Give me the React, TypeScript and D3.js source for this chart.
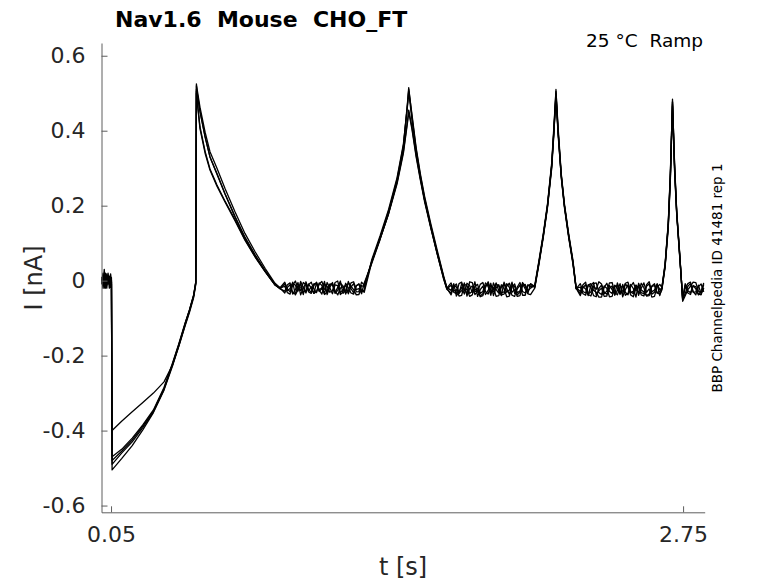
import React, { useEffect, useRef } from 'react';
import * as d3 from 'd3';

// sample times [s], shared by every sweep
const timePoints = [
  // holding before the step
  0.006, 0.012, 0.018, 0.024, 0.030, 0.036, 0.042, 0.048, 0.052,
  // step and first ramp
  0.055, 0.10, 0.15, 0.20, 0.25, 0.30, 0.34, 0.37, 0.40, 0.42, 0.44, 0.45,
  // jump and decay
  0.453, 0.456, 0.47, 0.494, 0.517, 0.55, 0.588, 0.635, 0.682, 0.73, 0.777, 0.824, 0.848,
  // flat 1
  0.87, 0.8825, 0.895, 0.9075, 0.92, 0.9325, 0.945, 0.9575, 0.97, 0.9825,
  0.995, 1.0075, 1.02, 1.0325, 1.045, 1.0575, 1.07, 1.0825, 1.095, 1.1075,
  1.12, 1.1325, 1.145, 1.1575, 1.17, 1.1825, 1.195, 1.2075, 1.22, 1.2325, 1.245,
  // peak 2
  1.28, 1.32, 1.36, 1.40, 1.43, 1.45, 1.455, 1.47, 1.49, 1.51, 1.53, 1.56, 1.59, 1.62, 1.635,
  // flat 2
  1.655, 1.6675, 1.68, 1.6925, 1.705, 1.7175, 1.73, 1.7425, 1.755, 1.7675,
  1.78, 1.7925, 1.805, 1.8175, 1.83, 1.8425, 1.855, 1.8675, 1.88, 1.8925,
  1.905, 1.9175, 1.93, 1.9425, 1.955, 1.9675, 1.98, 1.9925, 2.005, 2.0175, 2.03,
  // peak 3
  2.05, 2.07, 2.09, 2.11, 2.13, 2.14, 2.15, 2.16, 2.175, 2.19, 2.21, 2.23, 2.245,
  // flat 3
  2.265, 2.2775, 2.29, 2.3025, 2.315, 2.3275, 2.34, 2.3525, 2.365, 2.3775,
  2.39, 2.4025, 2.415, 2.4275, 2.44, 2.4525, 2.465, 2.4775, 2.49, 2.5025,
  2.515, 2.5275, 2.54, 2.5525, 2.565, 2.5775, 2.59, 2.6025, 2.615, 2.6275, 2.64,
  // peak 4
  2.65, 2.665, 2.68, 2.69, 2.70, 2.71, 2.72, 2.735, 2.748,
  // tail
  2.76, 2.7725, 2.785, 2.7975, 2.81, 2.8225, 2.835, 2.8475,
];

// current [nA] of each sweep
const sweep1 = [
  0.005, -0.01, 0.03, -0.02, 0.01, -0.005, 0.012, -0.015, 0.002,
  -0.49, -0.46, -0.43, -0.392, -0.35, -0.29, -0.225, -0.172, -0.115, -0.08, -0.04, -0.005,
  0.52, 0.512, 0.462, 0.396, 0.344, 0.3, 0.246, 0.184, 0.126, 0.077, 0.033, -0.007, -0.019,
  -0.004, -0.022, -0.030, -0.007, -0.012, -0.028, -0.002, -0.018, -0.033, -0.009,
  -0.020, -0.034, -0.006, -0.025, -0.036, -0.010, -0.015, -0.031, -0.027, -0.005,
  -0.001, -0.032, -0.024, -0.011, -0.035, -0.017, -0.008, -0.030, -0.029, -0.004, -0.012,
  0.05, 0.115, 0.185, 0.27, 0.36, 0.48, 0.515, 0.44, 0.35, 0.28, 0.22, 0.145, 0.075, 0.01, -0.02,
  -0.038, -0.016, -0.009, -0.033, -0.027, -0.006, -0.041, -0.021, -0.014, -0.037,
  -0.030, -0.010, -0.005, -0.029, -0.036, -0.012, -0.019, -0.042, -0.040, -0.017,
  -0.008, -0.031, -0.025, -0.004, -0.034, -0.022, -0.012, -0.039, -0.039, -0.011, -0.016,
  -0.015, 0.05, 0.12, 0.2, 0.31, 0.40, 0.51, 0.40, 0.28, 0.2, 0.12, 0.05, -0.02,
  -0.040, -0.019, -0.011, -0.035, -0.030, -0.008, -0.006, -0.032, -0.037, -0.014,
  -0.020, -0.043, -0.042, -0.016, -0.013, -0.034, -0.027, -0.007, -0.004, -0.029,
  -0.035, -0.012, -0.018, -0.038, -0.041, -0.015, -0.009, -0.036, -0.031, -0.010, -0.024,
  -0.02, 0.04, 0.15, 0.28, 0.484, 0.30, 0.18, 0.06, -0.05,
  -0.034, -0.015, -0.008, -0.031, -0.030, -0.012, -0.036, -0.019,
];

const sweep2 = [
  -0.01, 0.015, -0.02, 0.008, -0.012, 0.02, -0.008, 0.01, -0.004,
  -0.47, -0.45, -0.42, -0.385, -0.345, -0.285, -0.22, -0.168, -0.112, -0.078, -0.038, -0.003,
  0.51, 0.5, 0.45, 0.383, 0.33, 0.286, 0.232, 0.172, 0.116, 0.069, 0.027, -0.01, -0.022,
  -0.028, -0.011, -0.006, -0.033, -0.035, -0.014, -0.017, -0.037, -0.003, -0.024,
  -0.031, -0.008, -0.009, -0.029, -0.022, -0.002, -0.037, -0.018, -0.005, -0.034,
  -0.026, -0.007, -0.014, -0.036, -0.002, -0.021, -0.033, -0.013, -0.010, -0.030, -0.025,
  0.055, 0.12, 0.19, 0.275, 0.365, 0.47, 0.505, 0.43, 0.345, 0.275, 0.215, 0.14, 0.07, 0.005, -0.022,
  -0.012, -0.031, -0.035, -0.008, -0.004, -0.027, -0.022, -0.042, -0.038, -0.015,
  -0.010, -0.034, -0.029, -0.006, -0.016, -0.039, -0.006, -0.024, -0.033, -0.011,
  -0.021, -0.043, -0.041, -0.018, -0.009, -0.032, -0.028, -0.005, -0.015, -0.035, -0.037,
  -0.02, 0.045, 0.115, 0.195, 0.3, 0.39, 0.5, 0.395, 0.275, 0.195, 0.115, 0.045, -0.022,
  -0.008, -0.029, -0.033, -0.011, -0.019, -0.040, -0.043, -0.021, -0.012, -0.035,
  -0.028, -0.006, -0.005, -0.031, -0.038, -0.017, -0.016, -0.039, -0.034, -0.010,
  -0.021, -0.044, -0.007, -0.025, -0.030, -0.041, -0.040, -0.015, -0.013, -0.033, -0.036,
  -0.025, 0.035, 0.14, 0.27, 0.47, 0.29, 0.175, 0.055, -0.045,
  -0.012, -0.033, -0.037, -0.014, -0.016, -0.036, -0.038, -0.010,
];

const sweep3 = [
  0.01, -0.02, 0.005, -0.015, 0.018, -0.01, 0.004, -0.018, 0.008,
  -0.505, -0.475, -0.44, -0.398, -0.352, -0.292, -0.228, -0.174, -0.118, -0.082, -0.042, -0.007,
  0.525, 0.505, 0.452, 0.384, 0.33, 0.284, 0.231, 0.17, 0.114, 0.067, 0.026, -0.011, -0.02,
  -0.015, -0.032, -0.036, -0.012, -0.001, -0.021, -0.026, -0.005, -0.011, -0.030,
  -0.034, -0.013, -0.004, -0.025, -0.019, -0.037, -0.031, -0.009, -0.008, -0.027,
  -0.038, -0.020, -0.016, -0.033, -0.028, -0.006, -0.003, -0.024, -0.021, -0.035, -0.006,
  0.045, 0.11, 0.18, 0.265, 0.355, 0.475, 0.51, 0.445, 0.355, 0.285, 0.225, 0.15, 0.08, 0.012, -0.018,
  -0.026, -0.008, -0.041, -0.030, -0.017, -0.036, -0.007, -0.013, -0.032, -0.025,
  -0.020, -0.043, -0.040, -0.018, -0.003, -0.026, -0.030, -0.009, -0.014, -0.038,
  -0.036, -0.015, -0.007, -0.031, -0.024, -0.042, -0.040, -0.013, -0.010, -0.027, -0.020,
  -0.012, 0.055, 0.125, 0.205, 0.315, 0.41, 0.505, 0.41, 0.285, 0.205, 0.125, 0.055, -0.018,
  -0.029, -0.011, -0.004, -0.037, -0.041, -0.015, -0.023, -0.003, -0.009, -0.030,
  -0.036, -0.020, -0.014, -0.039, -0.026, -0.008, -0.043, -0.024, -0.011, -0.033,
  -0.028, -0.012, -0.039, -0.020, -0.006, -0.031, -0.022, -0.044, -0.042, -0.016, -0.010,
  -0.018, 0.045, 0.155, 0.29, 0.478, 0.31, 0.185, 0.065, -0.055,
  -0.040, -0.024, -0.015, -0.004, -0.005, -0.028, -0.032, -0.020,
];

const sweep4 = [
  0.0, 0.01, -0.015, 0.02, -0.005, 0.012, -0.02, 0.006, -0.01,
  -0.40, -0.375, -0.35, -0.325, -0.30, -0.27, -0.225, -0.175, -0.12, -0.085, -0.045, -0.01,
  0.50, 0.485, 0.41, 0.345, 0.298, 0.255, 0.212, 0.163, 0.11, 0.064, 0.025, -0.011, -0.02,
  -0.033, -0.018, -0.011, -0.036, -0.024, -0.005, -0.038, -0.019, -0.007, -0.028,
  -0.016, -0.034, -0.029, -0.009, -0.002, -0.023, -0.027, -0.010, -0.012, -0.032,
  -0.018, -0.001, -0.034, -0.025, -0.006, -0.015, -0.024, -0.038, -0.037, -0.013, -0.017,
  0.05, 0.113, 0.18, 0.262, 0.345, 0.43, 0.455, 0.41, 0.335, 0.272, 0.215, 0.142, 0.072, 0.008, -0.02,
  -0.006, -0.028, -0.024, -0.041, -0.039, -0.010, -0.013, -0.034, -0.028, -0.003,
  -0.042, -0.024, -0.015, -0.037, -0.026, -0.007, -0.040, -0.019, -0.011, -0.033,
  -0.030, -0.008, -0.018, -0.039, -0.042, -0.017, -0.005, -0.029, -0.033, -0.014, -0.010,
  -0.018, 0.05, 0.118, 0.198, 0.305, 0.395, 0.49, 0.39, 0.278, 0.198, 0.118, 0.048, -0.02,
  -0.017, -0.035, -0.039, -0.012, -0.008, -0.026, -0.031, -0.044, -0.044, -0.018,
  -0.007, -0.029, -0.034, -0.012, -0.020, -0.037, -0.010, -0.031, -0.038, -0.016,
  -0.005, -0.024, -0.031, -0.007, -0.019, -0.040, -0.036, -0.014, -0.008, -0.033, -0.028,
  -0.022, 0.038, 0.145, 0.275, 0.465, 0.295, 0.178, 0.058, -0.048,
  -0.020, -0.008, -0.004, -0.029, -0.038, -0.016, -0.009, -0.030,
];

const sweep5 = [
  -0.005, 0.02, -0.012, 0.004, -0.02, 0.015, -0.006, 0.018, -0.003,
  -0.48, -0.455, -0.425, -0.388, -0.348, -0.288, -0.222, -0.17, -0.114, -0.079, -0.039, -0.004,
  0.505, 0.48, 0.405, 0.34, 0.295, 0.252, 0.21, 0.16, 0.108, 0.063, 0.024, -0.012, -0.021,
  -0.009, -0.027, -0.021, -0.004, -0.038, -0.024, -0.008, -0.031, -0.025, -0.010,
  -0.004, -0.022, -0.032, -0.006, -0.013, -0.035, -0.005, -0.019, -0.035, -0.011,
  -0.013, -0.037, -0.030, -0.007, -0.019, -0.033, -0.036, -0.014, -0.008, -0.026, -0.031,
  0.048, 0.112, 0.178, 0.258, 0.34, 0.425, 0.45, 0.405, 0.33, 0.268, 0.21, 0.138, 0.07, 0.004, -0.023,
  -0.033, -0.012, -0.017, -0.035, -0.008, -0.022, -0.036, -0.003, -0.005, -0.030,
  -0.025, -0.041, -0.035, -0.014, -0.009, -0.032, -0.023, -0.006, -0.027, -0.040,
  -0.004, -0.021, -0.037, -0.011, -0.016, -0.038, -0.031, -0.009, -0.022, -0.034, -0.008,
  -0.016, 0.048, 0.12, 0.2, 0.308, 0.4, 0.495, 0.4, 0.282, 0.2, 0.12, 0.05, -0.019,
  -0.035, -0.016, -0.022, -0.040, -0.012, -0.005, -0.038, -0.027, -0.020, -0.042,
  -0.041, -0.013, -0.024, -0.036, -0.006, -0.028, -0.035, -0.009, -0.017, -0.038,
  -0.043, -0.021, -0.014, -0.032, -0.035, -0.011, -0.003, -0.030, -0.025, -0.008, -0.040,
  -0.02, 0.042, 0.15, 0.285, 0.476, 0.305, 0.182, 0.062, -0.052,
  -0.008, -0.027, -0.032, -0.013, -0.022, -0.038, -0.027, -0.006,
];

const sweeps = [sweep1, sweep2, sweep3, sweep4, sweep5];

const xTicks = [0.05, 2.75];
const yTicks = [-0.6, -0.4, -0.2, 0, 0.2, 0.4, 0.6];

const FONT = '"DejaVu Sans", "Liberation Sans", sans-serif';
const TEXT = '#262626';
const AXIS = '#5e5e5e';

const App: React.FC = () => {
  const svgRef = useRef<SVGSVGElement>(null);

  useEffect(() => {
    if (!svgRef.current) return;
    const svg = d3.select(svgRef.current);
    svg.selectAll('*').remove();

    const left = 101.5, right = 704.7, top = 43, bottom = 512.3;

    const x = d3.scaleLinear().domain([0.005, 2.852]).range([left, right]);
    const y = d3.scaleLinear().domain([-0.618, 0.634]).range([bottom, top]);

    // traces
    const line = d3.line<number>()
      .x((_, i) => x(timePoints[i]))
      .y(d => y(d));

    svg.append('g')
      .selectAll('path')
      .data(sweeps)
      .enter().append('path')
      .attr('d', d => line(d.slice(0, timePoints.length)))
      .attr('fill', 'none')
      .attr('stroke', '#000')
      .attr('stroke-width', 1.3)
      .attr('stroke-linejoin', 'round');

    // y axis
    const yAxis = svg.append('g')
      .attr('transform', `translate(${left},0)`)
      .call(d3.axisLeft(y).tickValues(yTicks).tickFormat(d => String(d))
        .tickSizeInner(-6).tickSizeOuter(0).tickPadding(16));
    yAxis.select('.domain').attr('stroke', AXIS);
    yAxis.selectAll('.tick line').attr('stroke', AXIS);
    yAxis.selectAll('text')
      .attr('fill', TEXT)
      .style('font-family', FONT)
      .style('font-size', '22px');

    // x axis
    const xAxis = svg.append('g')
      .attr('transform', `translate(0,${bottom})`)
      .call(d3.axisBottom(x).tickValues(xTicks).tickFormat(d => String(d))
        .tickSizeInner(-6).tickSizeOuter(0).tickPadding(14));
    xAxis.select('.domain').attr('stroke', AXIS);
    xAxis.selectAll('.tick line').attr('stroke', AXIS);
    xAxis.selectAll('text')
      .attr('fill', TEXT)
      .style('font-family', FONT)
      .style('font-size', '22px');

    // labels
    svg.append('text')
      .attr('x', (left + right) / 2)
      .attr('y', 575)
      .attr('text-anchor', 'middle')
      .attr('fill', TEXT)
      .style('font-family', FONT)
      .style('font-size', '24px')
      .text('t [s]');

    svg.append('text')
      .attr('transform', `translate(42,278) rotate(-90)`)
      .attr('text-anchor', 'middle')
      .attr('fill', TEXT)
      .style('font-family', FONT)
      .style('font-size', '24px')
      .text('I [nA]');

    svg.append('text')
      .attr('x', 115)
      .attr('y', 27)
      .attr('fill', '#000')
      .style('font-family', FONT)
      .style('font-size', '22px')
      .style('font-weight', 'bold')
      .style('white-space', 'pre')
      .text('Nav1.6  Mouse  CHO_FT');

    svg.append('text')
      .attr('x', 703)
      .attr('y', 47)
      .attr('text-anchor', 'end')
      .attr('fill', '#000')
      .style('font-family', FONT)
      .style('font-size', '18.5px')
      .style('white-space', 'pre')
      .text('25 °C  Ramp');

    svg.append('text')
      .attr('transform', `translate(722,278) rotate(-90)`)
      .attr('text-anchor', 'middle')
      .attr('fill', '#000')
      .style('font-family', FONT)
      .style('font-size', '13.5px')
      .text('BBP Channelpedia ID 41481 rep 1');
  }, []);

  return (
    <svg
      ref={svgRef}
      width={778}
      height={583}
      style={{ position: 'absolute', left: 0, top: 0, background: '#fff' }}
    />
  );
};

export default App;
